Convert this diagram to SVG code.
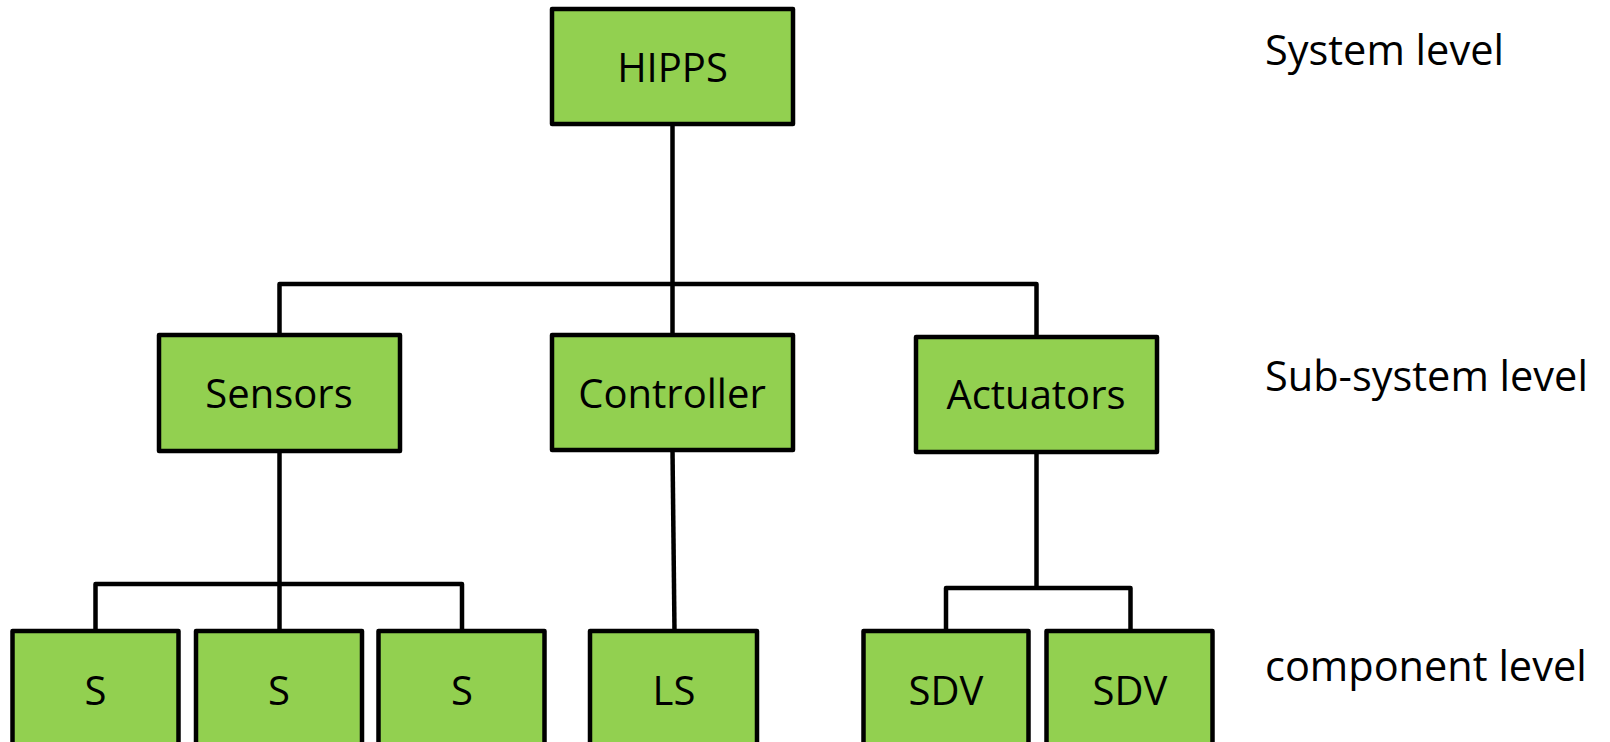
<svg xmlns="http://www.w3.org/2000/svg" width="1610" height="742" viewBox="0 0 1610 742">
<style>
.box{fill:#92D050;stroke:#000;stroke-width:4.5;stroke-linejoin:round}
.lbl{font-family:"Open Sans","Noto Sans","Liberation Sans",sans-serif;font-size:40px;fill:#000;text-anchor:middle}
.lvl{font-family:"Open Sans","Noto Sans","Liberation Sans",sans-serif;font-size:41.5px;fill:#000}
.con{fill:none;stroke:#000;stroke-width:4.5;stroke-linejoin:round}
</style>
<rect width="1610" height="742" fill="#fff"/>
<g id="connectors">
<path class="con" d="M672.5 124V284"/>
<path class="con" d="M279.5 335V284H1036.5V337"/>
<path class="con" d="M672.5 284V335"/>
<path class="con" d="M279.5 451V584"/>
<path class="con" d="M95.5 631V584H462V631"/>
<path class="con" d="M279.5 584V631"/>
<path class="con" d="M672.5 450L674.5 631"/>
<path class="con" d="M1036.5 452V588"/>
<path class="con" d="M946 631V588H1130.5V631"/>
</g>
<g id="hipps"><rect class="box" x="552" y="9" width="241" height="115"/><text class="lbl" x="672.5" y="82">HIPPS</text></g>
<g id="sensors"><rect class="box" x="159" y="335" width="241" height="116"/><text class="lbl" x="279" y="408">Sensors</text></g>
<g id="controller"><rect class="box" x="552" y="335" width="241" height="115"/><text class="lbl" x="672" y="408">Controller</text></g>
<g id="actuators"><rect class="box" x="916" y="337" width="241" height="115"/><text class="lbl" x="1036" y="409">Actuators</text></g>
<g id="s1"><rect class="box" x="12.5" y="631" width="166" height="150"/><text class="lbl" x="95.5" y="705">S</text></g>
<g id="s2"><rect class="box" x="196" y="631" width="166" height="150"/><text class="lbl" x="279" y="705">S</text></g>
<g id="s3"><rect class="box" x="378.5" y="631" width="166" height="150"/><text class="lbl" x="462" y="705">S</text></g>
<g id="ls"><rect class="box" x="590" y="631" width="167" height="150"/><text class="lbl" x="674" y="705">LS</text></g>
<g id="sdv1"><rect class="box" x="863.5" y="631" width="165" height="150"/><text class="lbl" x="946" y="705">SDV</text></g>
<g id="sdv2"><rect class="box" x="1046.5" y="631" width="166" height="150"/><text class="lbl" x="1130" y="705">SDV</text></g>
<g id="levels">
<text class="lvl" x="1265" y="65">System level</text>
<text class="lvl" x="1265" y="391">Sub-system level</text>
<text class="lvl" x="1265" y="681">component level</text>
</g>
</svg>
